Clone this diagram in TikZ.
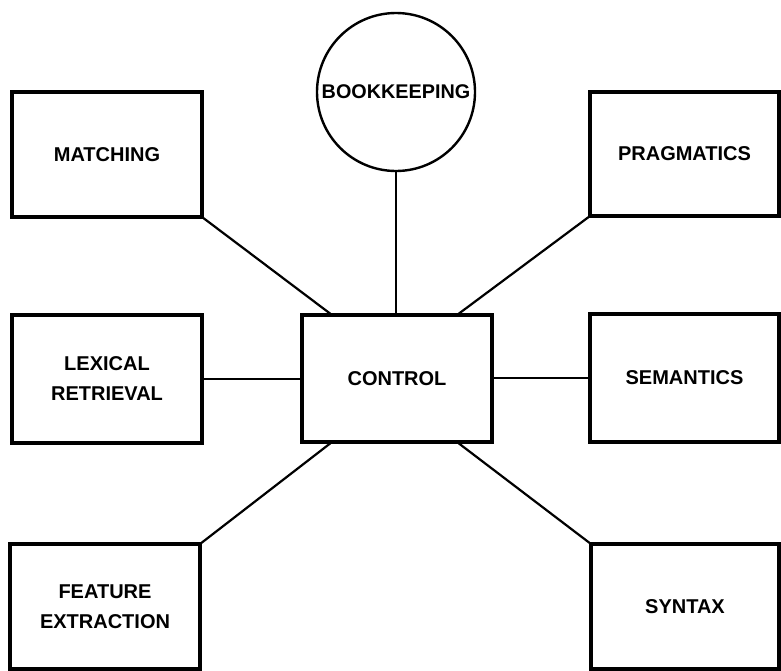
\documentclass[tikz,border=0pt]{standalone}
\usepackage{fontspec}
\setmainfont{Liberation Sans}
\begin{document}
\begin{tikzpicture}[x=1pt,y=-1pt,
  module/.style={draw, line width=3.2pt, rectangle, inner sep=0pt, outer sep=0pt,
    align=center, font=\fontsize{20}{30}\selectfont\bfseries},
  hub/.style={draw, line width=2.4pt, circle, inner sep=0pt, outer sep=0pt,
    minimum size=158pt, font=\fontsize{19.8}{30}\selectfont\bfseries},
  link/.style={line width=2.2pt}]
  \useasboundingbox (0,0) rectangle (781,670);

  % central controller and the data store above it
  \node[module, minimum width=190pt, minimum height=127pt] (ctl) at (397,378.5) {CONTROL};
  \node[hub] (bk) at (396,92) {BOOKKEEPING};

  % knowledge sources around the controller
  \node[module, minimum width=190pt, minimum height=125pt] (match) at (107,154.5) {MATCHING};
  \node[module, minimum width=189pt, minimum height=124pt] (prag) at (684.5,154) {PRAGMATICS};
  \node[module, minimum width=190pt, minimum height=128pt] (lex) at (107,379) {LEXICAL\\RETRIEVAL};
  \node[module, minimum width=189pt, minimum height=128pt] (sem) at (684.5,378) {SEMANTICS};
  \node[module, minimum width=190pt, minimum height=125pt] (feat) at (105,606.5) {FEATURE\\EXTRACTION};
  \node[module, minimum width=188pt, minimum height=125pt] (syn) at (685,606.5) {SYNTAX};

  % connections to the controller
  \draw[link] (bk.south) -- (bk.south |- ctl.north);
  \draw[link] (match.south east) -- ([xshift=30pt]ctl.north west);
  \draw[link] (prag.south west) -- ([xshift=-35pt]ctl.north east);
  \draw[link] (lex.east) -- (lex.east -| ctl.west);
  \draw[link] (sem.west) -- (sem.west -| ctl.east);
  \draw[link] (feat.north east) -- ([xshift=30pt]ctl.south west);
  \draw[link] (syn.north west) -- ([xshift=-35pt]ctl.south east);
\end{tikzpicture}
\end{document}
